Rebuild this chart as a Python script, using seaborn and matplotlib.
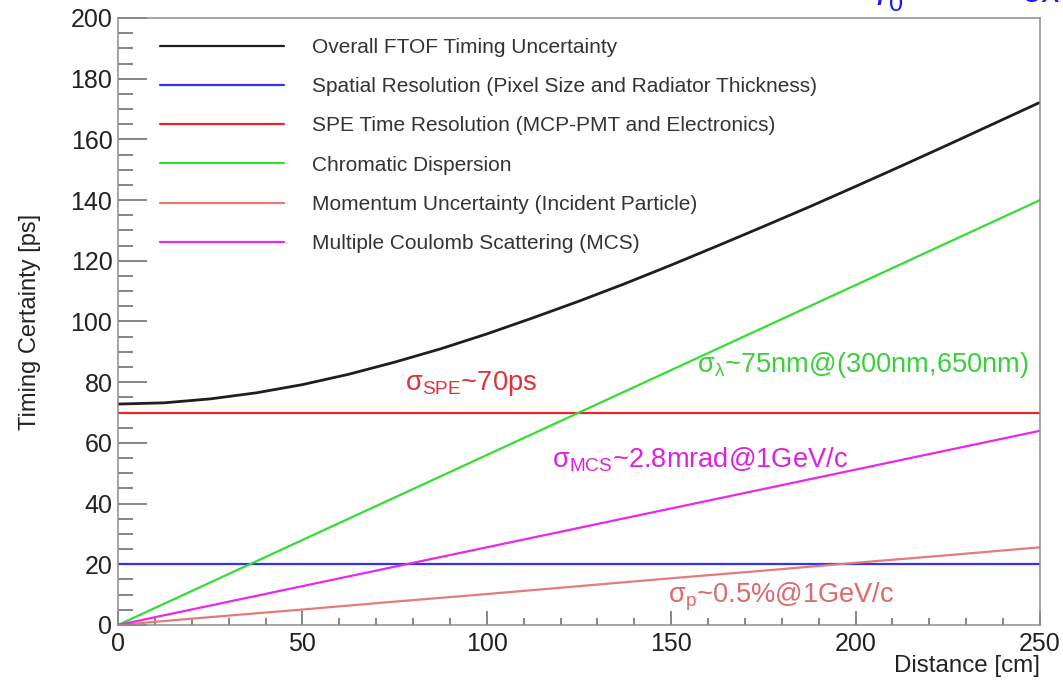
import matplotlib
matplotlib.use('Agg')
import matplotlib.pyplot as plt
from matplotlib.ticker import MultipleLocator
import pandas as pd
import seaborn as sns

# values
distance = [0, 25, 50, 75, 100, 125, 150, 175, 200, 225, 250]
spatial = [20, 20, 20, 20, 20, 20, 20, 20, 20, 20, 20]
spe = [70, 70, 70, 70, 70, 70, 70, 70, 70, 70, 70]
chromatic = [0, 14, 28, 42, 56, 70, 84, 98, 112, 126, 140]
momentum = [0, 2.6, 5.1, 7.7, 10.2, 12.8, 15.4, 17.9, 20.5, 23.0, 25.6]
mcs = [0, 6.4, 12.8, 19.2, 25.6, 32.0, 38.4, 44.8, 51.2, 57.6, 64.0]

# the overall curve is bent, so it is read at a finer step
overall_distance = [0, 12.5, 25, 37.5, 50, 62.5, 75, 87.5, 100, 112.5, 125,
                    137.5, 150, 162.5, 175, 187.5, 200, 212.5, 225, 237.5, 250]
overall = [72.8, 73.2, 74.5, 76.5, 79.2, 82.6, 86.6, 91.0, 95.9, 101.2, 106.7,
           112.5, 118.6, 124.9, 131.3, 137.8, 144.5, 151.3, 158.2, 165.2, 172.2]

labels = [
    'Overall FTOF Timing Uncertainty',
    'Spatial Resolution (Pixel Size and Radiator Thickness)',
    'SPE Time Resolution (MCP-PMT and Electronics)',
    'Chromatic Dispersion',
    'Momentum Uncertainty (Incident Particle)',
    'Multiple Coulomb Scattering (MCS)',
]
colors = ['#1e1e1e', '#3434ee', '#e8262c', '#36dc36', '#e27c7c', '#ea28ea']

frames = [pd.DataFrame({'distance': overall_distance, 'timing': overall, 'component': labels[0]})]
for lab, vals in zip(labels[1:], [spatial, spe, chromatic, momentum, mcs]):
    frames.append(pd.DataFrame({'distance': distance, 'timing': vals, 'component': lab}))
df = pd.concat(frames, ignore_index=True)

sns.set_theme(style='white')
plt.rcParams['font.family'] = ['Liberation Sans', 'DejaVu Sans']
plt.rcParams['mathtext.fontset'] = 'custom'
plt.rcParams['mathtext.rm'] = 'Liberation Sans'
plt.rcParams['mathtext.it'] = 'Liberation Sans:italic'
plt.rcParams['mathtext.bf'] = 'Liberation Sans:bold'

fig = plt.figure(figsize=(10.63, 6.8), dpi=100)
ax = fig.add_axes([118 / 1063, 55 / 680, 922 / 1063, 607 / 680])

sns.lineplot(data=df, x='distance', y='timing', hue='component', hue_order=labels,
             palette=dict(zip(labels, colors)), linewidth=1.6, ax=ax)
ax.lines[0].set_linewidth(2.0)

sns.move_legend(ax, 'upper left', bbox_to_anchor=(0.0456, 0.967), title=None,
                frameon=False, fontsize=15, handlelength=5.96, handletextpad=1.35,
                labelspacing=0.97, borderpad=0, borderaxespad=0)
for t in ax.get_legend().get_texts():
    t.set_color('#333333')

ax.set_xlim(0, 250)
ax.set_ylim(0, 200)

# ROOT-like inward ticks
ax.xaxis.set_major_locator(MultipleLocator(50))
ax.xaxis.set_minor_locator(MultipleLocator(10))
ax.yaxis.set_major_locator(MultipleLocator(20))
ax.yaxis.set_minor_locator(MultipleLocator(5))
ax.tick_params(which='both', direction='in', color='#666666', width=1.1,
               bottom=True, left=True, top=False, right=False,
               labelcolor='#222222', labelsize=18)
ax.tick_params(axis='y', which='major', length=21, pad=4)
ax.tick_params(axis='y', which='minor', length=11)
ax.tick_params(axis='x', which='major', length=10, pad=5)
ax.tick_params(axis='x', which='minor', length=5)

for side, sp in ax.spines.items():
    sp.set_color('#8c8c8c')
    sp.set_linewidth(1.1)

ax.set_xlabel('Distance [cm]', fontsize=17.4, color='#222222', ha='right')
ax.xaxis.set_label_coords(1.0, -0.05)
ax.set_ylabel('Timing Certainty [ps]', fontsize=17, color='#222222')
ax.yaxis.set_label_coords(-0.084, 0.5)

# annotations
ax.text(77.8, 79.7, r'$\mathregular{\sigma_{SPE}}$~70ps', color='#e2303a',
        fontsize=19.6, ha='left', va='center')
ax.text(157, 85.7, r'$\mathregular{\sigma_{\lambda}}$~75nm@(300nm,650nm)', color='#3ad03a',
        fontsize=19.6, ha='left', va='center')
ax.text(117.7, 54.4, r'$\mathregular{\sigma_{MCS}}$~2.8mrad@1GeV/c', color='#dd22dd',
        fontsize=19.6, ha='left', va='center')
ax.text(149, 9.2, r'$\mathregular{\sigma_{p}}$~0.5%@1GeV/c', color='#dc6a6a',
        fontsize=19.6, ha='left', va='center')

# clipped fragments of a formula above the plot (cut off in the reference too)
fig.text(876 / 1063, 0.993, r'$r_0$', color='#1a1aff', fontsize=26, ha='left', va='baseline',
         family=['DejaVu Serif'])
fig.text(1022 / 1063, 0.997, r'$ex$', color='#1a1aff', fontsize=26, ha='left', va='baseline',
         family=['DejaVu Serif'])

fig.savefig('out.png', dpi=100)
